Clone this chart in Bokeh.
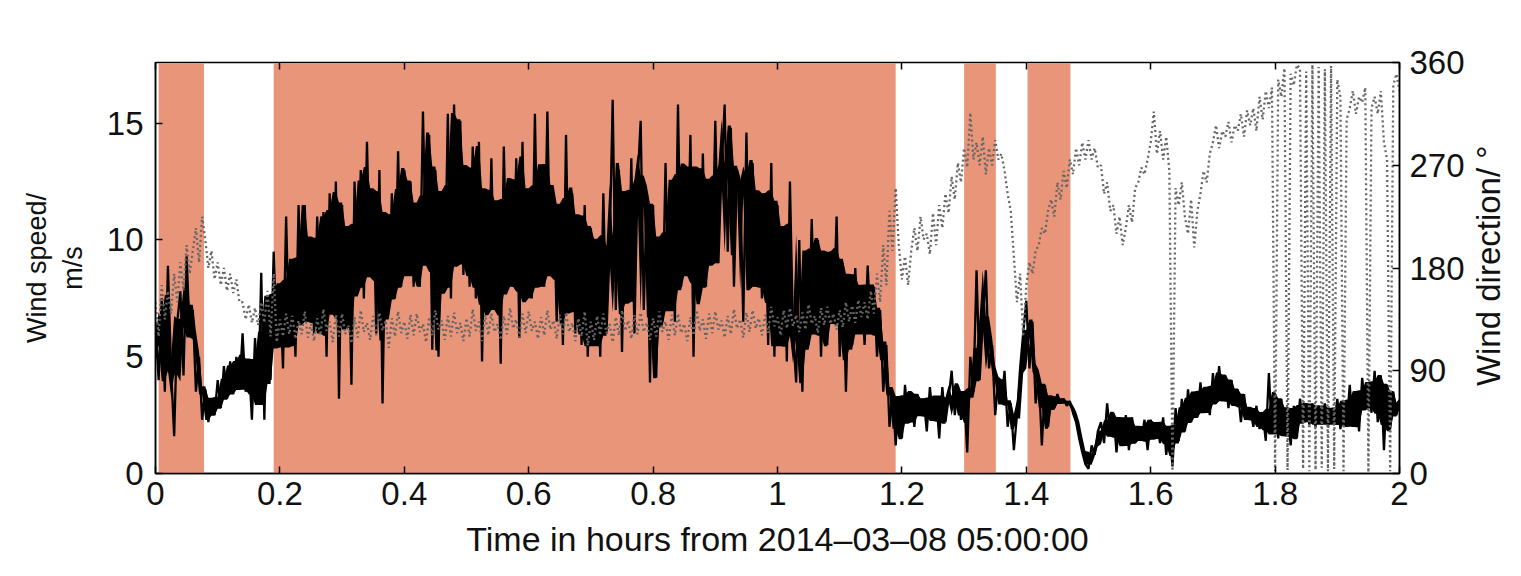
import numpy as np
import pandas as pd
from bokeh.plotting import figure
from bokeh.layouts import row
from bokeh.models import Range1d, LinearAxis, FixedTicker, BoxAnnotation, ColumnDataSource, Label
from bokeh.embed import file_html
from bokeh.resources import INLINE

# ---------------- data ----------------
step_h = 0.005  # sampling step of the read-off series, hours

# wind speed, m/s (4 samples per 0.02 h)
wind_speed = [
    6.5, 4.0, 7.5, 3.5,  8.9, 4.5, 1.6, 6.5,  7.8, 4.2, 9.3, 6.0,  7.0, 3.5, 5.0, 2.3,  3.6, 2.2, 3.2, 2.5,
    4.0, 2.8, 4.6, 3.2,  4.8, 3.4, 5.0, 3.6,  6.0, 3.5, 4.8, 2.3,  5.8, 3.0, 8.6, 2.3,  7.5, 4.0, 9.5, 5.5,
    8.0, 4.5, 11.0, 5.5,  9.0, 5.0, 11.5, 6.5,  11.5, 6.5, 10.0, 6.0,  11.0, 6.0, 11.2, 5.0,  12.0, 7.0, 12.5, 3.2,
    11.5, 6.5, 10.5, 3.8,  12.5, 8.0, 13.0, 7.5,  14.2, 8.5, 12.0, 6.0,  13.0, 3.0, 11.0, 7.0,  12.0, 7.5, 13.8, 8.0,
    13.0, 8.5, 12.5, 8.0,  11.5, 8.0, 15.5, 9.0,  14.5, 5.3, 13.0, 5.0,  12.0, 8.0, 15.4, 7.5,  15.8, 9.0, 15.1, 8.5,
    13.0, 8.0, 14.0, 7.5,  14.2, 4.8, 12.0, 7.0,  13.5, 7.0, 11.5, 4.7,  14.0, 8.0, 12.5, 8.0,  13.5, 5.8, 14.2, 7.5,
    12.0, 7.5, 15.4, 8.0,  13.0, 8.0, 15.5, 8.5,  12.0, 6.5, 11.5, 5.5,  14.5, 7.0, 12.0, 6.0,  11.0, 5.5, 11.5, 5.0,
    10.5, 5.5, 10.0, 5.0,  12.0, 6.0, 9.5, 16.0,  7.0, 13.0, 5.2, 12.0,  7.5, 13.5, 6.0, 12.5,  15.1, 7.0, 12.0, 3.9,
    11.5, 4.1, 10.0, 6.5,  13.3, 7.0, 12.5, 6.5,  15.8, 8.0, 13.0, 8.5,  14.5, 5.0, 13.0, 7.5,  13.7, 8.0, 12.5, 9.0,
    15.1, 9.0, 13.0, 15.8,  9.5, 14.8, 8.0, 13.0,  12.5, 6.5, 14.6, 8.0,  13.3, 8.0, 12.0, 7.5,  12.0, 5.5, 13.3, 5.0,
    11.5, 5.5, 10.5, 4.8,  12.5, 6.0, 3.9, 10.0,  3.5, 9.5, 5.5, 10.9,  6.0, 10.0, 5.0, 9.5,  5.5, 9.5, 6.5, 11.0,
    5.0, 9.0, 3.5, 8.5,  5.5, 8.8, 6.0, 8.0,  5.5, 8.9, 6.0, 8.0,  5.0, 7.0, 3.5, 5.5,  2.0, 3.5, 1.2, 3.3,
    1.5, 3.8, 2.2, 3.5,  2.0, 3.4, 2.5, 3.2,  1.8, 3.7, 2.3, 3.3,  1.5, 3.7, 2.2, 3.2,  4.4, 2.5, 3.8, 2.3,
    3.5, 0.9, 5.0, 3.5,  8.7, 4.0, 6.5, 8.7,  4.5, 5.5, 2.5, 4.0,  3.0, 4.4, 2.0, 3.0,  1.0, 2.5, 4.5, 6.0,
    7.4, 4.5, 6.5, 3.0,  4.2, 1.2, 3.8, 2.0,  3.3, 2.8, 3.4, 3.0,  3.2, 2.9, 3.1, 2.6,  2.2, 1.5, 0.9, 0.4,
    0.2, 1.2, 0.8, 1.8,  2.2, 1.3, 3.0, 1.6,  2.6, 0.9, 2.4, 1.2,  2.5, 1.0, 2.4, 1.3,  2.0, 1.4, 2.3, 1.0,
    2.3, 1.5, 2.2, 1.3,  2.4, 0.8, 2.0, 0.3,  2.8, 1.4, 3.2, 1.8,  3.6, 2.2, 3.5, 2.4,  3.9, 2.6, 3.7, 2.5,
    4.3, 3.0, 4.6, 3.1,  4.2, 2.8, 4.0, 2.9,  3.6, 2.2, 3.4, 2.3,  2.8, 2.0, 2.9, 1.9,  2.6, 1.4, 4.3, 1.7,
    3.4, 1.5, 3.2, 1.6,  2.8, 1.2, 2.9, 1.5,  3.2, 2.2, 3.0, 2.1,  3.0, 2.0, 2.9, 2.1,  3.0, 2.0, 2.8, 2.1,
    3.2, 1.9, 3.1, 2.0,  3.8, 2.0, 3.5, 1.8,  4.1, 2.8, 3.9, 2.6,  4.4, 2.2, 4.2, 1.0,  3.8, 1.9, 3.5, 2.5,
    3.0,
]

# wind direction, degrees (4 samples per 0.02 h)
wind_direction = [
    150, 120, 165, 135,  160, 140, 175, 150,  185, 160, 200, 175,  195, 215, 185, 225,  205, 180, 195, 170,
    185, 165, 180, 160,  175, 158, 170, 150,  150, 135, 148, 132,  145, 130, 150, 132,  160, 120, 175, 115,
    135, 120, 140, 122,  138, 118, 134, 122,  142, 119, 131, 116,  136, 121, 144, 125,  133, 115, 139, 120,
    140, 122, 130, 114,  137, 119, 143, 124,  132, 117, 138, 121,  141, 125, 134, 110,  136, 120, 142, 123,
    133, 118, 139, 121,  140, 124, 131, 115,  137, 121, 143, 126,  134, 117, 138, 120,  141, 123, 132, 116,
    136, 120, 144, 125,  133, 116, 139, 121,  140, 124, 131, 117,  138, 122, 145, 127,  135, 119, 140, 123,
    142, 125, 133, 118,  137, 121, 143, 126,  134, 118, 139, 122,  141, 124, 132, 116,  136, 120, 142, 112,
    133, 117, 138, 121,  140, 123, 131, 115,  137, 121, 143, 125,  134, 118, 139, 122,  141, 124, 132, 117,
    136, 120, 142, 124,  133, 117, 139, 121,  140, 123, 131, 116,  137, 121, 143, 125,  135, 118, 140, 123,
    142, 126, 134, 119,  138, 122, 144, 127,  135, 119, 141, 124,  143, 127, 136, 121,  139, 123, 146, 129,
    137, 121, 143, 127,  145, 129, 139, 124,  141, 126, 148, 131,  138, 123, 145, 130,  146, 131, 140, 126,
    143, 128, 150, 133,  147, 132, 152, 137,  150, 135, 160, 140,  175, 150, 200, 165,  230, 195, 250, 200,
    170, 190, 165, 195,  215, 195, 225, 205,  210, 192, 228, 200,  235, 215, 245, 228,  260, 240, 272, 255,
    285, 268, 316, 275,  290, 270, 295, 262,  285, 270, 292, 275,  280, 265, 245, 230,  190, 150, 175, 120,
    165, 185, 175, 195,  200, 215, 210, 230,  240, 225, 255, 240,  265, 250, 275, 262,  285, 270, 290, 275,
    292, 275, 285, 268,  270, 245, 255, 230,  235, 210, 225, 200,  215, 235, 220, 250,  255, 268, 262, 275,
    290, 317, 280, 300,  275, 295, 265, 2,  250, 235, 255, 225,  210, 240, 198, 230,  245, 265, 255, 280,
    290, 305, 285, 300,  295, 308, 290, 305,  300, 315, 295, 318,  305, 320, 300, 330,  310, 335, 320, 338,
    2, 345, 330, 355,  3, 350, 340, 358,  355, 4, 352, 2,  358, 3, 356, 5,  354, 2, 357, 4,
    345, 330, 2, 310,  320, 335, 315, 330,  325, 338, 1, 320,  330, 315, 335, 290,  275, 2, 340, 350,
    335,
]

# shaded intervals (hours)
shade_start = [0.005, 0.19, 1.30, 1.402]
shade_end = [0.078, 1.19, 1.351, 1.471]

x_ticks = [0, 0.2, 0.4, 0.6, 0.8, 1, 1.2, 1.4, 1.6, 1.8, 2]
speed_ticks = [0, 5, 10, 15]
dir_ticks = [0, 90, 180, 270, 360]

# ---------------- figure ----------------
FONT = "Liberation Sans"
FIG_H = 560
t_speed = np.round(np.arange(len(wind_speed)) * step_h, 4)
t_dir = np.round(np.arange(len(wind_direction)) * step_h, 4)

# dense core of the high-frequency speed signal, taken from the read samples
sp = pd.Series(wind_speed)
core_lo = sp.rolling(4, center=True, min_periods=1).quantile(0.3)
core_hi = sp.rolling(4, center=True, min_periods=1).quantile(0.7)

p = figure(width=1470, height=FIG_H, x_range=Range1d(0, 2), y_range=Range1d(0, 17.6),
           output_backend="svg", toolbar_location=None,
           min_border_left=155, min_border_right=71, min_border_top=62, min_border_bottom=86)
p.extra_y_ranges = {"dir": Range1d(0, 360)}
p.grid.visible = False
p.outline_line_color = "black"
p.outline_line_width = 1.5
p.background_fill_color = "white"
p.border_fill_color = "white"

for s, e in zip(shade_start, shade_end):
    p.add_layout(BoxAnnotation(left=s, right=e, fill_color="#E8957A", fill_alpha=1.0,
                               line_color=None, level="underlay"))

src_s = ColumnDataSource(dict(t=t_speed, v=wind_speed, lo=core_lo.values, hi=core_hi.values))
src_d = ColumnDataSource(dict(t=t_dir, v=wind_direction))
p.varea(x="t", y1="lo", y2="hi", source=src_s, fill_color="black", fill_alpha=1.0)
p.line("t", "v", source=src_s, line_color="black", line_width=2.3)
p.line("t", "v", source=src_d, y_range_name="dir", line_color="#666666",
       line_width=2.3, line_dash="2 3")

# axes
def style(ax, size="33px"):
    ax.major_label_text_font = FONT
    ax.major_label_text_font_size = size
    ax.major_label_text_color = "#111111"
    ax.axis_label_text_font = FONT
    ax.axis_label_text_font_style = "normal"
    ax.axis_label_text_color = "#111111"
    ax.major_tick_in = 7
    ax.major_tick_out = 0
    ax.minor_tick_line_color = None
    ax.axis_line_color = "black"
    ax.axis_line_width = 1.5
    ax.major_tick_line_width = 1.5

xa = p.xaxis[0]
xa.ticker = FixedTicker(ticks=x_ticks)
xa.major_label_overrides = {0: "0", 1: "1", 2: "2"}
xa.axis_label = "Time in hours from 2014\u201303\u201308 05:00:00"
style(xa)
xa.axis_label_text_font_size = "34px"
xa.major_label_standoff = 8
xa.axis_label_standoff = 12

ya = p.yaxis[0]
ya.ticker = FixedTicker(ticks=speed_ticks)
ya.axis_label = "Wind speed/\nm/s"
style(ya)
ya.axis_label_text_font_size = "27px"
ya.major_label_standoff = 12
ya.axis_label_standoff = 16

ra = LinearAxis(y_range_name="dir", ticker=FixedTicker(ticks=dir_ticks))
style(ra)
ra.major_label_standoff = 10
p.add_layout(ra, "right")

ta = LinearAxis(ticker=FixedTicker(ticks=x_ticks))
ta.major_label_text_color = None
ta.major_label_text_font_size = "1px"
ta.major_tick_in = 7
ta.major_tick_out = 0
ta.major_tick_line_width = 1.5
ta.minor_tick_line_color = None
ta.axis_line_color = "black"
p.add_layout(ta, "above")

# narrow strip on the right carrying the direction-axis title (reads bottom-to-top)
strip = figure(width=35, height=FIG_H, x_range=Range1d(0, 1), y_range=Range1d(0, FIG_H),
               output_backend="svg", toolbar_location=None,
               min_border_left=0, min_border_right=0, min_border_top=0, min_border_bottom=0)
strip.axis.visible = False
strip.grid.visible = False
strip.outline_line_color = None
strip.background_fill_color = "white"
strip.border_fill_color = "white"
title_mid = FIG_H - 277  # vertical middle of the title as in the original
strip.add_layout(Label(x=0.5, y=title_mid, text="Wind direction/ \u00b0", angle=90, angle_units="deg",
                       text_align="center", text_baseline="middle", text_font=FONT,
                       text_font_size="33px", text_color="#111111"))

open("out.html", "w").write(file_html(row(p, strip), INLINE))
